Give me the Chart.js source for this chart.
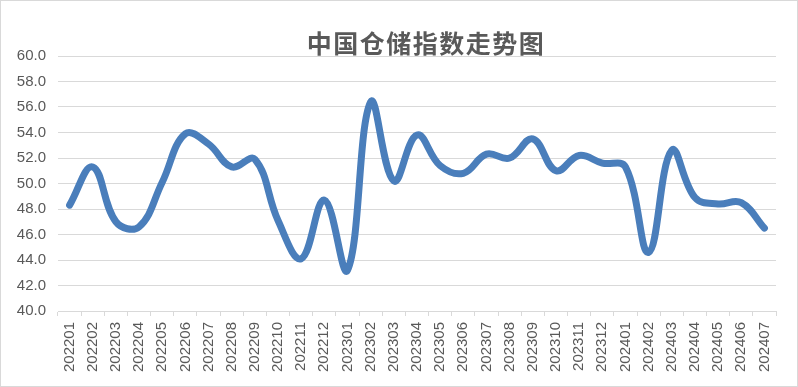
<!DOCTYPE html>
<html>
<head>
<meta charset="utf-8">
<script src="https://cdn.jsdelivr.net/npm/chart.js@4/dist/chart.umd.min.js"></script>
<style>
  body { margin: 0; background: #fff; }
  #wrap { position: relative; width: 798px; height: 387px; box-sizing: border-box; border: 1px solid #d9d9d9; }
  #title { position: absolute; left: 0; width: 850px; top: 23px; text-align: center;
    font-family: "Noto Sans CJK SC", sans-serif; font-weight: bold; font-size: 25px;
    letter-spacing: 1.5px; color: #595959; }
  #box { position: absolute; left: 0; top: 0; width: 796px; height: 385px; }
</style>
</head>
<body>
<div id="wrap">
  <div id="box"><canvas id="warehouseChart"></canvas></div>
  <div id="title">中国仓储指数走势图</div>
</div>
<script>
// months on the x axis
const months = [
  '202201', '202202', '202203', '202204', '202205', '202206', '202207', '202208',
  '202209', '202210', '202211', '202212', '202301', '202302', '202303', '202304',
  '202305', '202306', '202307', '202308', '202309', '202310', '202311', '202312',
  '202401', '202402', '202403', '202404', '202405', '202406', '202407'
];

// warehouse index values
const indexValues = [
  48.3, 51.3, 47.0, 46.6, 50.1, 53.9, 53.1, 51.3,
  51.9, 47.1, 44.1, 48.7, 43.2, 56.4, 50.2, 53.8,
  51.4, 50.8, 52.3, 52.0, 53.5, 51.0, 52.2, 51.6,
  51.3, 44.6, 52.6, 48.9, 48.4, 48.5, 46.5
];

// y axis range
const yMin = 40;
const yMax = 60;
const yStep = 2;

const ctx = document.getElementById('warehouseChart').getContext('2d');

const warehouseChart = new Chart(ctx, {
  type: 'line',
  data: {
    labels: months,
    datasets: [{
      label: '中国仓储指数',
      data: indexValues,
      borderColor: '#4a7ebb',
      borderWidth: 7,
      borderCapStyle: 'round',
      borderJoinStyle: 'round',
      pointRadius: 0,
      tension: 0.4,
      fill: false
    }]
  },
  options: {
    responsive: true,
    maintainAspectRatio: false,
    animation: false,
    layout: {
      padding: { top: 55, right: 21, left: 0, bottom: 0 }
    },
    scales: {
      x: {
        offset: true,
        grid: {
          offset: true,
          drawOnChartArea: false,
          drawTicks: true,
          tickLength: 5,
          color: '#d9d9d9'
        },
        border: { color: '#d9d9d9' },
        ticks: {
          autoSkip: false,
          minRotation: 90,
          maxRotation: 90,
          padding: 6,
          color: '#595959',
          font: { family: 'Liberation Sans', size: 15 }
        },
        afterFit: scale => { scale.height = 75; }
      },
      y: {
        min: yMin,
        max: yMax,
        grid: {
          color: '#d9d9d9',
          drawTicks: false
        },
        border: { display: false },
        ticks: {
          stepSize: yStep,
          padding: 12,
          color: '#595959',
          font: { family: 'Liberation Sans', size: 15 },
          callback: value => value.toFixed(1)
        },
        afterFit: scale => { scale.width = 57; }
      }
    },
    plugins: {
      legend: { display: false },
      tooltip: { enabled: false }
    }
  }
});
</script>
</body>
</html>
